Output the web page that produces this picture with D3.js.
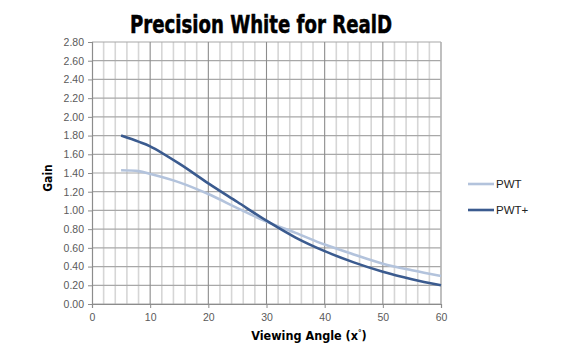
<!DOCTYPE html>
<html><head><meta charset="utf-8">
<script src="https://cdn.jsdelivr.net/npm/d3@7"></script>
<style>body{margin:0;background:#fff}svg{display:block}</style>
</head><body><svg id="c" width="563" height="352"></svg>
<script>
const angles = [5, 8, 10, 15, 20, 25, 30, 35, 40, 45, 50, 55, 60];
const pwt     = [1.43, 1.42, 1.39, 1.30, 1.175, 1.025, 0.88, 0.76, 0.635, 0.53, 0.43, 0.36, 0.30];
const pwtPlus = [1.80, 1.735, 1.685, 1.50, 1.29, 1.09, 0.89, 0.71, 0.565, 0.445, 0.345, 0.265, 0.20];
const seriesNames = ["PWT", "PWT+"];
const seriesColors = ["#b3c3dc", "#3b5b8f"];
const yTicks = d3.range(0, 2.81, 0.2);
const xTicks = [0, 10, 20, 30, 40, 50, 60];

const svg = d3.select("#c");
const L = 92, R = 441, T = 42, B = 304;
const x = d3.scaleLinear().domain([0, 60]).range([L, R]);
const y = d3.scaleLinear().domain([0, 2.8]).range([B, T]);

const g = svg.append("g");
g.selectAll("line.vmin").data(d3.range(2, 60, 2).filter(v => v % 10 !== 0)).join("line")
  .attr("x1", d => x(d)).attr("x2", d => x(d)).attr("y1", T).attr("y2", B)
  .attr("stroke", "#d6d6d6").attr("stroke-width", 1.6);
g.selectAll("line.h").data(yTicks).join("line")
  .attr("x1", L).attr("x2", R).attr("y1", d => y(d)).attr("y2", d => y(d))
  .attr("stroke", "#a8a8a8").attr("stroke-width", 1.2);
g.selectAll("line.vmaj").data(xTicks.filter(v => v > 0)).join("line")
  .attr("x1", d => x(d)).attr("x2", d => x(d)).attr("y1", T).attr("y2", B)
  .attr("stroke", d => d === 60 ? "#b0b0b0" : "#8c8c8c").attr("stroke-width", d => d === 60 ? 1.6 : 1.1);

const yAxis = d3.axisLeft(y).tickValues(yTicks).tickSize(4).tickPadding(4).tickFormat(d3.format(".2f"));
const ya = svg.append("g").attr("transform", `translate(${L},0)`).call(yAxis);
const xAxis = d3.axisBottom(x).tickValues(xTicks).tickSize(4).tickPadding(6);
const xa = svg.append("g").attr("transform", `translate(0,${B})`).call(xAxis);
[ya, xa].forEach(a => {
  a.select(".domain").attr("stroke", "#8c8c8c").attr("stroke-width", 1.2);
  a.selectAll(".tick line").attr("stroke", "#8c8c8c");
  a.selectAll(".tick text").attr("fill", "#5a5a5a").attr("font-family", "Liberation Sans, Arial, sans-serif").attr("font-size", 10.5);
});

const line = d3.line().x((d, i) => x(angles[i])).y(d => y(d)).curve(d3.curveCatmullRom.alpha(0.5));
[pwt, pwtPlus].forEach((s, k) => {
  svg.append("path").datum(s).attr("d", line).attr("fill", "none")
    .attr("stroke", seriesColors[k]).attr("stroke-width", 2.6).attr("stroke-linecap", "butt");
});

svg.append("text").attr("x", 261).attr("y", 33).attr("text-anchor", "middle")
  .attr("font-family", "DejaVu Sans Condensed, DejaVu Sans, sans-serif").attr("font-weight", "bold")
  .attr("font-size", 24).attr("textLength", 262).attr("lengthAdjust", "spacingAndGlyphs")
  .attr("stroke", "#000").attr("stroke-width", 0.5)
  .text("Precision White for RealD");

svg.append("text").attr("transform", "translate(52,178) rotate(-90)").attr("text-anchor", "middle")
  .attr("font-family", "DejaVu Sans Condensed, DejaVu Sans, sans-serif").attr("font-weight", "bold").attr("font-size", 12)
  .text("Gain");
const xt = svg.append("text").attr("x", 309).attr("y", 340).attr("text-anchor", "middle")
  .attr("font-family", "DejaVu Sans Condensed, DejaVu Sans, sans-serif").attr("font-weight", "bold").attr("font-size", 12.5);
xt.append("tspan").text("Viewing Angle (x");
xt.append("tspan").attr("font-size", 8).attr("dy", -4).text("°");
xt.append("tspan").attr("dy", 4).text(")");

const lg = svg.append("g");
seriesNames.forEach((n, k) => {
  const yy = [184, 210][k];
  lg.append("line").attr("x1", 468).attr("x2", 494).attr("y1", yy).attr("y2", yy)
    .attr("stroke", seriesColors[k]).attr("stroke-width", 2.6);
  lg.append("text").attr("x", 496).attr("y", yy + 4).attr("font-family", "Liberation Sans, Arial, sans-serif")
    .attr("font-size", 11.5).attr("fill", "#222").text(n);
});
</script></body></html>
